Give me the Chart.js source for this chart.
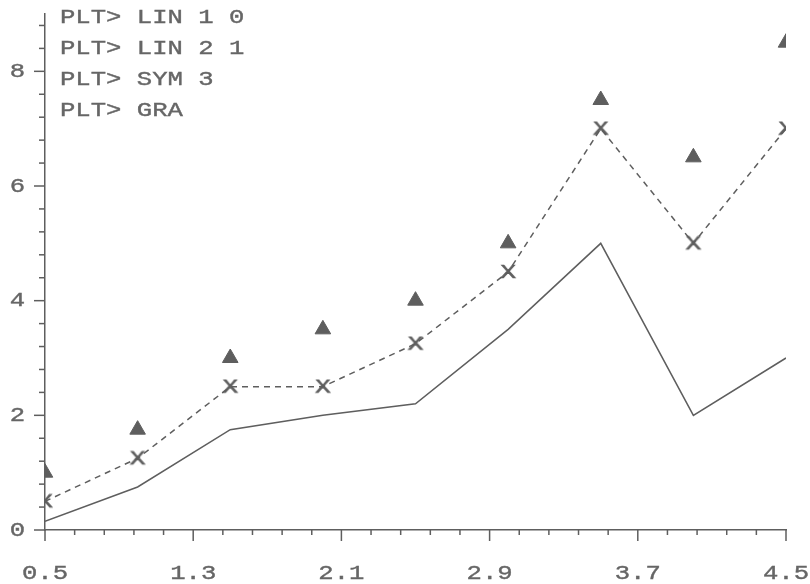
<!DOCTYPE html>
<html>
<head>
<meta charset="utf-8">
<script src="https://cdn.jsdelivr.net/npm/chart.js@4.4.0/dist/chart.umd.min.js"></script>
<style>
  html, body { margin: 0; background: #fff; }
  #wrap { width: 810px; height: 584px; }
</style>
</head>
<body>
<div id="wrap"><canvas id="plot"></canvas></div>
<script>
const xValues = [0.5, 1, 1.5, 2, 2.5, 3, 3.5, 4, 4.5];
const solidLine = [0.15, 0.75, 1.75, 2.0, 2.2, 3.5, 5.0, 2.0, 3.0];
const dashedLine = [0.5, 1.25, 2.5, 2.5, 3.25, 4.5, 7.0, 5.0, 7.0];
const triangles = [1.0, 1.75, 3.0, 3.5, 4.0, 5.0, 7.5, 6.5, 8.5];
const xTickLabels = ['0.5', '1.3', '2.1', '2.9', '3.7', '4.5'];
const yTickLabels = ['0', '2', '4', '6', '8'];
const commands = ['PLT> LIN 1 0', 'PLT> LIN 2 1', 'PLT> SYM 3', 'PLT> GRA'];

const ink = '#5e5e5e';
const textInk = '#666';
const fontName = '"Liberation Mono", "Courier New", monospace';
const stretch = 1.22;

const pts = ys => xValues.map((x, i) => ({ x, y: ys[i] }));

function labelFor(list, v) {
  const hit = list.find(l => Math.abs(parseFloat(l) - v) < 1e-6);
  return hit === undefined ? '' : hit;
}

// serif X marker, drawn once on a small canvas
const xMark = document.createElement('canvas');
xMark.width = 18; xMark.height = 16;
{
  const c = xMark.getContext('2d');
  c.fillStyle = ink;
  c.font = '20px ' + fontName;
  c.textAlign = 'center';
  c.textBaseline = 'middle';
  c.translate(9, 9);
  c.scale(1.3, 1);
  c.fillText('X', 0, 0);
  c.lineWidth = 0.6;
  c.strokeStyle = ink;
  c.strokeText('X', 0, 0);
}

function stretchedText(ctx, s, x, y, align) {
  ctx.save();
  ctx.translate(x, y);
  ctx.scale(stretch, 1);
  ctx.textAlign = align;
  ctx.fillText(s, 0, 0);
  ctx.strokeText(s, 0, 0);
  ctx.restore();
}

const plotDecor = {
  id: 'plotDecor',
  afterDraw(chart) {
    const { ctx, chartArea } = chart;
    const xs = chart.scales.x, ys = chart.scales.y;
    ctx.save();
    ctx.strokeStyle = ink;
    ctx.lineWidth = 1.5;

    xs.ticks.forEach(t => {
      const px = xs.getPixelForValue(t.value);
      const label = labelFor(xTickLabels, t.value);
      ctx.beginPath();
      ctx.moveTo(px, chartArea.bottom);
      ctx.lineTo(px, chartArea.bottom + (label ? 11 : 5));
      ctx.stroke();
    });

    ys.ticks.forEach(t => {
      if (Math.abs(t.value / 0.4 - Math.round(t.value / 0.4)) > 1e-6) return;
      const py = ys.getPixelForValue(t.value);
      const label = labelFor(yTickLabels, t.value);
      ctx.beginPath();
      ctx.moveTo(chartArea.left, py);
      ctx.lineTo(chartArea.left - (label ? 11 : 6), py);
      ctx.stroke();
    });

    ctx.fillStyle = textInk;
    ctx.strokeStyle = textInk;
    ctx.lineWidth = 0.4;
    ctx.font = '21px ' + fontName;
    ctx.textBaseline = 'middle';
    xs.ticks.forEach(t => {
      const label = labelFor(xTickLabels, t.value);
      if (label) stretchedText(ctx, label, xs.getPixelForValue(t.value), 573, 'center');
    });
    ys.ticks.forEach(t => {
      const label = labelFor(yTickLabels, t.value);
      if (label) stretchedText(ctx, label, 17.5, ys.getPixelForValue(t.value), 'center');
    });
    commands.forEach((line, i) => stretchedText(ctx, line, 60, 17 + i * 31, 'left'));
    ctx.restore();
  }
};

new Chart(document.getElementById('plot'), {
  type: 'scatter',
  data: {
    datasets: [
      { data: pts(solidLine), showLine: true, borderColor: ink, borderWidth: 1.5, pointRadius: 0, tension: 0 },
      { data: pts(dashedLine), showLine: true, borderColor: ink, borderWidth: 1.5, borderDash: [6, 5], pointStyle: xMark, pointRadius: 8, tension: 0 },
      { data: pts(triangles), showLine: false, pointStyle: 'triangle', pointRadius: 9, backgroundColor: ink, borderColor: ink, borderWidth: 1 }
    ]
  },
  options: {
    responsive: true,
    maintainAspectRatio: false,
    animation: false,
    layout: { padding: { top: 14, right: 24, left: 0, bottom: 0 } },
    plugins: { legend: { display: false }, tooltip: { enabled: false } },
    scales: {
      x: {
        type: 'linear', min: 0.5, max: 4.5,
        ticks: { stepSize: 0.16, display: false, autoSkip: false },
        grid: { display: false },
        border: { display: true, color: ink, width: 1.5 },
        afterFit: s => { s.height = 54; }
      },
      y: {
        type: 'linear', min: 0, max: 9,
        ticks: { stepSize: 0.4, display: false, autoSkip: false },
        grid: { display: false },
        border: { display: true, color: ink, width: 1.5 },
        afterFit: s => { s.width = 45; }
      }
    }
  },
  plugins: [plotDecor]
});
</script>
</body>
</html>
